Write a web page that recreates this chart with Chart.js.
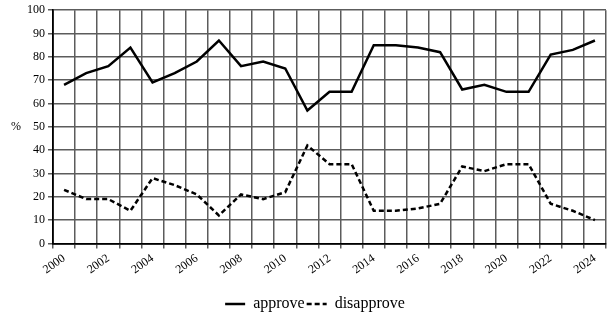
<!DOCTYPE html>
<html>
<head>
<meta charset="utf-8">
<script src="https://cdn.jsdelivr.net/npm/chart.js@4/dist/chart.umd.min.js"></script>
<style>
  html, body { margin: 0; padding: 0; background: #fff; }
  #wrap { width: 615px; height: 322px; }
</style>
</head>
<body>
<div id="wrap"><canvas id="chart"></canvas></div>
<script>
const years = ['2000','2001','2002','2003','2004','2005','2006','2007','2008','2009','2010','2011','2012',
  '2013','2014','2015','2016','2017','2018','2019','2020','2021','2022','2023','2024'];
const approve = [68,73,76,84,69,73,78,87,76,78,75,57,65,65,85,85,84,82,66,68,65,65,81,83,87];
const disapprove = [23,19,19,14,28,25,21,12,21,19,22,42,34,34,14,14,15,17,33,31,34,34,17,14,10];
const yTicks = [0,10,20,30,40,50,60,70,80,90,100];

const serif = '"Liberation Serif", "Times New Roman", serif';

// the "%" label sits flat left of the y axis
const percentLabel = {
  id: 'percentLabel',
  afterDraw(chart) {
    const ctx = chart.ctx;
    const y = chart.scales.y.getPixelForValue(50);
    ctx.save();
    ctx.font = '12px ' + serif;
    ctx.fillStyle = '#000';
    ctx.textAlign = 'center';
    ctx.textBaseline = 'middle';
    ctx.fillText('%', 16, y);
    ctx.restore();
  }
};

new Chart(document.getElementById('chart'), {
  type: 'line',
  data: {
    labels: years,
    datasets: [
      { label: 'approve', data: approve, borderColor: '#000', backgroundColor: '#000',
        borderWidth: 2.5, pointRadius: 0, tension: 0 },
      { label: 'disapprove', data: disapprove, borderColor: '#000', backgroundColor: '#000',
        borderWidth: 2.5, borderDash: [5, 3], pointRadius: 0, tension: 0 }
    ]
  },
  options: {
    responsive: true,
    maintainAspectRatio: false,
    animation: false,
    layout: { padding: { left: 24, right: 9, top: 4, bottom: 0 } },
    plugins: {
      legend: {
        position: 'bottom',
        labels: {
          color: '#000',
          font: { family: serif, size: 16 },
          usePointStyle: true,
          pointStyle: 'line',
          pointStyleWidth: 20,
          boxWidth: 20,
          padding: 2,
          // keep the dash of each line in its legend sample
          generateLabels: (chart) => chart.data.datasets.map((ds, i) => ({
            text: ds.label,
            datasetIndex: i,
            strokeStyle: ds.borderColor,
            fillStyle: ds.borderColor,
            fontColor: '#000',
            lineWidth: 2.5,
            lineDash: ds.borderDash || [],
            pointStyle: 'line',
            hidden: false
          }))
        }
      },
      tooltip: { enabled: false }
    },
    scales: {
      x: {
        type: 'category',
        offset: true,
        grid: { offset: true, color: '#5c5c5c', lineWidth: 1.5, tickLength: 5 },
        border: { color: '#000', width: 1.8 },
        afterFit: (axis) => { axis.height += 14; },
        ticks: {
          autoSkip: false,
          minRotation: 35,
          maxRotation: 35,
          color: '#000',
          font: { family: serif, size: 12 },
          padding: 3,
          callback: (v, i) => (i % 2 === 0 ? years[i] : '')
        }
      },
      y: {
        min: 0,
        max: 100,
        afterBuildTicks: (axis) => { axis.ticks = yTicks.map(v => ({ value: v })); },
        grid: { color: '#5c5c5c', lineWidth: 1.5, tickLength: 5 },
        border: { color: '#000', width: 1.8 },
        ticks: { color: '#000', font: { family: serif, size: 12 }, padding: 3 }
      }
    }
  },
  plugins: [percentLabel]
});
</script>
</body>
</html>
